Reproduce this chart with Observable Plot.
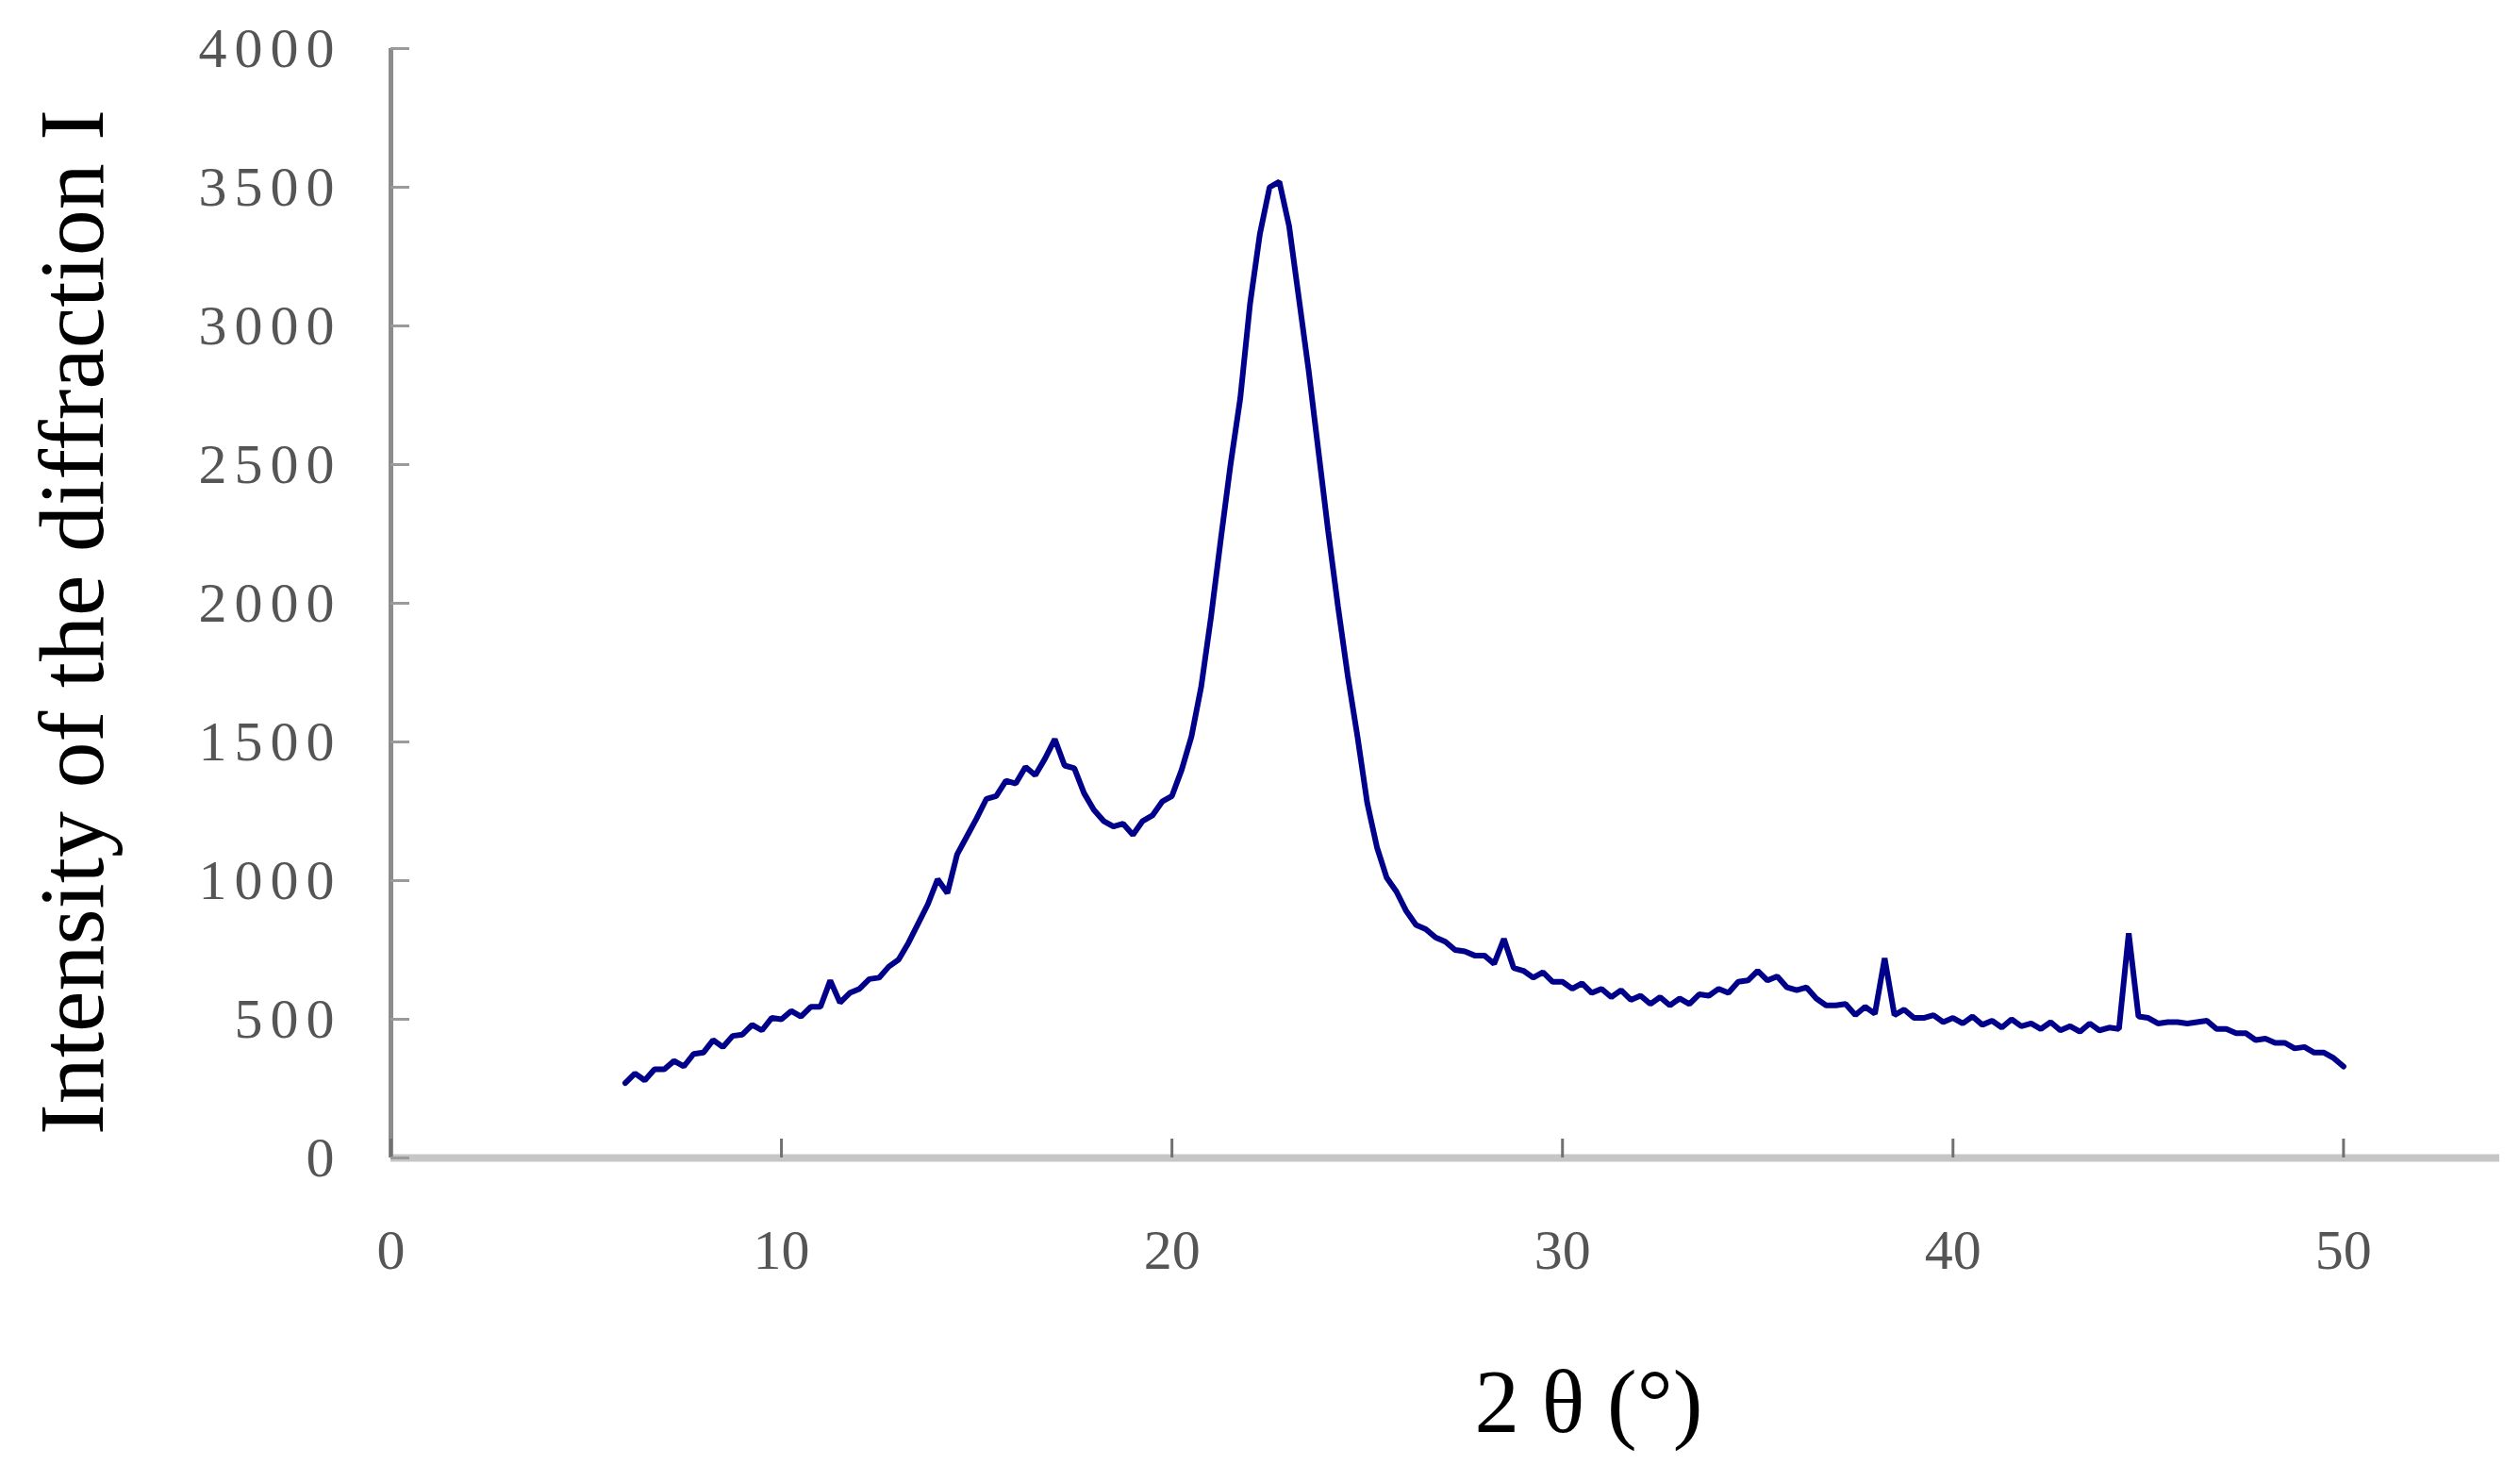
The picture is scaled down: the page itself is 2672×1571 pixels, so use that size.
<!DOCTYPE html>
<html>
<head>
<meta charset="utf-8">
<script src="https://cdn.jsdelivr.net/npm/d3@7"></script>
<script src="https://cdn.jsdelivr.net/npm/@observablehq/plot@0.6"></script>
<style>
  html, body { margin: 0; padding: 0; background: #fff; }
  #chart svg { display: block; }
</style>
</head>
<body>
<div id="chart"></div>
<script>
// 2θ grid: 6° to 50° in steps of 0.25°
const thetaStart = 6;
const thetaStep = 0.25;
// Intensity values (4 per degree, 6.00 ... 50.00)
const intensity = [
  270, 305, 280, 320,      // 6
  320, 350, 330, 375,      // 7
  380, 425, 400, 440,      // 8
  445, 480, 460, 505,      // 9
  500, 530, 510, 545,      // 10
  545, 640, 560, 595,      // 11
  610, 645, 650, 690,      // 12
  715, 775, 845, 915,      // 13
  1005, 955, 1095, 1160,   // 14
  1225, 1295, 1305, 1360,  // 15
  1350, 1410, 1380, 1440,  // 16
  1510, 1415, 1405, 1315,  // 17
  1255, 1215, 1195, 1205,  // 18
  1165, 1215, 1235, 1285,  // 19
  1305, 1400, 1520, 1700,  // 20
  1950, 2230, 2500, 2740,  // 21
  3080, 3330, 3500, 3520,  // 22
  3360, 3100, 2840, 2550,  // 23
  2260, 1990, 1740, 1520,  // 24
  1280, 1120, 1010, 960,   // 25
  890, 840, 825, 795,      // 26
  780, 750, 745, 730,      // 27
  730, 700, 790, 685,      // 28
  675, 650, 670, 635,      // 29
  635, 610, 630, 595,      // 30
  610, 580, 605, 570,      // 31
  585, 555, 580, 550,      // 32
  575, 555, 590, 585,      // 33
  610, 595, 635, 640,      // 34
  675, 640, 655, 615,      // 35
  605, 615, 575, 550,      // 36
  550, 555, 515, 545,      // 37
  520, 720, 515, 535,      // 38
  505, 505, 515, 490,      // 39
  505, 485, 510, 480,      // 40
  495, 470, 500, 475,      // 41
  485, 465, 490, 460,      // 42
  475, 455, 485, 460,      // 43
  470, 465, 810, 510,      // 44
  505, 485, 490, 490,      // 45
  485, 490, 495, 465,      // 46
  465, 450, 450, 425,      // 47
  430, 415, 415, 395,      // 48
  400, 380, 380, 360,      // 49
  330                      // 50
];
const xTicks = [0, 10, 20, 30, 40, 50];
const yTicks = [0, 500, 1000, 1500, 2000, 2500, 3000, 3500, 4000];
const xTitle = "2 θ (°)";
const yTitle = "Intensity of the diffraction I";

const data = intensity.map((v, i) => ({theta: thetaStart + i * thetaStep, intensity: v}));

const chart = Plot.plot({
  width: 2672,
  height: 1571,
  marginLeft: 414,
  marginRight: 22,
  marginTop: 51,
  marginBottom: 344,
  style: {background: "#fff", fontFamily: "'Liberation Serif', serif"},
  x: {domain: [0, 54], label: null},
  y: {domain: [0, 4000], label: null},
  marks: [
    Plot.ruleY([0], {stroke: "#c6c6c6", strokeWidth: 8}),
    Plot.ruleX([0], {y1: 0, y2: 4000, stroke: "#8c8c8c", strokeWidth: 5}),
    Plot.axisX({ticks: xTicks, text: null, label: null, tickSize: -20, stroke: "#707070", strokeWidth: 3}),
    Plot.axisX({ticks: xTicks, label: null, tickSize: 0, tickPadding: 0, dy: 98, lineAnchor: "middle",
      fontSize: 60, fill: "#555", tickFormat: d => String(d)}),
    Plot.axisY({ticks: yTicks, text: null, label: null, tickSize: -20, stroke: "#9a9a9a", strokeWidth: 3}),
    Plot.axisY({ticks: yTicks, label: null, tickSize: 0, tickPadding: 52, fontSize: 60, fill: "#555",
      tickFormat: d => String(d)}),
    Plot.line(data, {x: "theta", y: "intensity", stroke: "#00008b", strokeWidth: 6, strokeLinejoin: "miter"}),
    Plot.text([yTitle], {frameAnchor: "left", textAnchor: "middle", rotate: -90, dx: -337, dy: 20, fontSize: 98,
      fill: "#000", lineAnchor: "middle"}),
    Plot.text([xTitle], {frameAnchor: "bottom", textAnchor: "middle", dx: 152, dy: 260, fontSize: 95,
      fill: "#000", lineAnchor: "middle"})
  ]
});
document.getElementById("chart").appendChild(chart);
d3.select(chart).selectAll('g[aria-label="y-axis tick label"] text').style("letter-spacing", "8px");
</script>
</body>
</html>
